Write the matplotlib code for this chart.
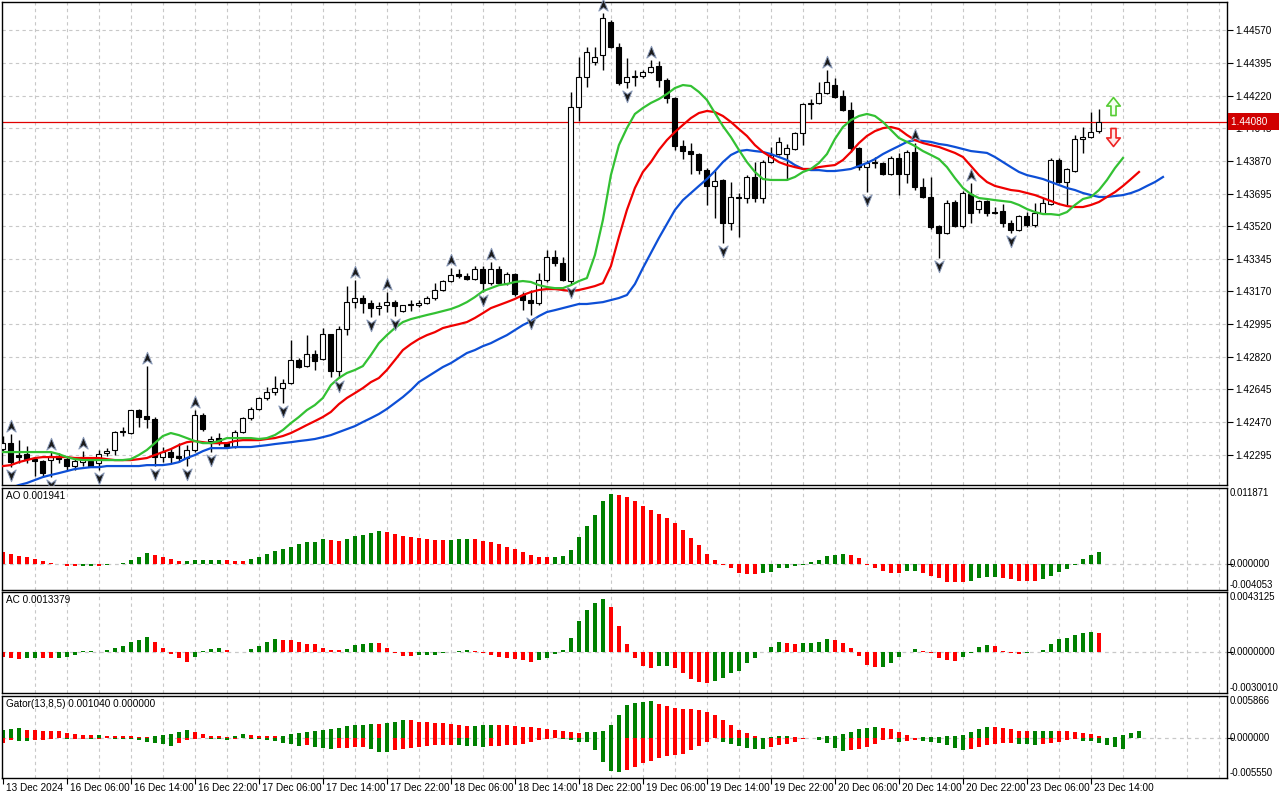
import numpy as np
import matplotlib.pyplot as plt
from matplotlib.path import Path
from matplotlib import transforms

plt.rcParams['font.family'] = ['Liberation Sans', 'DejaVu Sans']

# H1 candles, 13 Dec 22:00 .. 23 Dec 15:00 (prices)
opens = [1.42325, 1.42357, 1.42293, 1.42298, 1.42271, 1.42261, 1.42266, 1.42282, 1.42271, 1.42234,
         1.42255, 1.42261, 1.42250, 1.42304, 1.42320, 1.42422, 1.42411, 1.42534, 1.42502, 1.42486,
         1.42282, 1.42309, 1.42288, 1.42277, 1.42320, 1.42507, 1.42368, 1.42384, 1.42357, 1.42336,
         1.42416, 1.42491, 1.42540, 1.42599, 1.42631, 1.42652, 1.42679, 1.42802, 1.42770, 1.42835,
         1.42808, 1.42942, 1.42743, 1.42969, 1.43113, 1.43135, 1.43108, 1.43081, 1.43097, 1.43113,
         1.43065, 1.43097, 1.43097, 1.43108, 1.43135, 1.43178, 1.43226, 1.43264, 1.43253, 1.43237,
         1.43290, 1.43215, 1.43290, 1.43215, 1.43264, 1.43151, 1.43124, 1.43108, 1.43231, 1.43355,
         1.43323, 1.43226, 1.44159, 1.44320, 1.44400, 1.44438, 1.44615, 1.44481, 1.44293, 1.44320,
         1.44325, 1.44347, 1.44378, 1.44304, 1.44207, 1.43950, 1.43923, 1.43907, 1.43821, 1.43736,
         1.43768, 1.43537, 1.43677, 1.43671, 1.43783, 1.43671, 1.43864, 1.43907, 1.43907, 1.43934,
         1.44020, 1.44175, 1.44181, 1.44234, 1.44277, 1.44218, 1.44143, 1.43939, 1.43837, 1.43859,
         1.43859, 1.43800, 1.43886, 1.43800, 1.43918, 1.43730, 1.43677, 1.43521, 1.43483, 1.43650,
         1.43521, 1.43692, 1.43612, 1.43655, 1.43596, 1.43601, 1.43537, 1.43500, 1.43575, 1.43526,
         1.43591, 1.43639, 1.43875, 1.43757, 1.43816, 1.43987, 1.43998, 1.44030]
highs = [1.42395, 1.42405, 1.42373, 1.42341, 1.42282, 1.42266, 1.42309, 1.42304, 1.42288, 1.42277,
         1.42314, 1.42271, 1.42320, 1.42330, 1.42422, 1.42443, 1.42534, 1.42540, 1.42770, 1.42497,
         1.42336, 1.42330, 1.42357, 1.42346, 1.42534, 1.42518, 1.42395, 1.42411, 1.42362, 1.42427,
         1.42497, 1.42550, 1.42604, 1.42658, 1.42717, 1.42700, 1.42910, 1.42813, 1.42936, 1.42856,
         1.42974, 1.42942, 1.42985, 1.43199, 1.43231, 1.43151, 1.43124, 1.43113, 1.43167, 1.43124,
         1.43097, 1.43124, 1.43124, 1.43146, 1.43215, 1.43231, 1.43296, 1.43290, 1.43269, 1.43306,
         1.43306, 1.43328, 1.43306, 1.43274, 1.43269, 1.43167, 1.43178, 1.43269, 1.43392, 1.43392,
         1.43355, 1.44240, 1.44427, 1.44481, 1.44481, 1.44663, 1.44626, 1.44502, 1.44422, 1.44358,
         1.44358, 1.44411, 1.44406, 1.44315, 1.44212, 1.43982, 1.43966, 1.43912, 1.43832, 1.43821,
         1.43773, 1.43757, 1.43698, 1.43794, 1.43864, 1.43875, 1.43945, 1.43998, 1.43961, 1.44025,
         1.44181, 1.44202, 1.44293, 1.44358, 1.44315, 1.44250, 1.44186, 1.43945, 1.43875, 1.43891,
         1.43864, 1.43896, 1.43912, 1.43929, 1.43966, 1.43778, 1.43784, 1.43526, 1.43660, 1.43660,
         1.43709, 1.43752, 1.43660, 1.43660, 1.43623, 1.43639, 1.43553, 1.43580, 1.43596, 1.43644,
         1.43671, 1.43886, 1.43886, 1.43832, 1.44009, 1.44052, 1.44132, 1.44148]
lows = [1.42309, 1.42228, 1.42250, 1.42250, 1.42180, 1.42175, 1.42175, 1.42250, 1.42212, 1.42212,
        1.42234, 1.42228, 1.42212, 1.42288, 1.42293, 1.42395, 1.42405, 1.42443, 1.42438, 1.42234,
        1.42255, 1.42250, 1.42255, 1.42234, 1.42309, 1.42422, 1.42309, 1.42346, 1.42330, 1.42330,
        1.42411, 1.42481, 1.42534, 1.42588, 1.42615, 1.42572, 1.42674, 1.42759, 1.42765, 1.42749,
        1.42802, 1.42711, 1.42706, 1.42936, 1.43081, 1.43054, 1.43033, 1.43044, 1.43060, 1.43038,
        1.43060, 1.43065, 1.43087, 1.43103, 1.43124, 1.43172, 1.43221, 1.43242, 1.43231, 1.43231,
        1.43167, 1.43204, 1.43204, 1.43204, 1.43146, 1.43070, 1.43044, 1.43097, 1.43221, 1.43306,
        1.43226, 1.43210, 1.44084, 1.44266, 1.44384, 1.44358, 1.44476, 1.44277, 1.44261, 1.44272,
        1.44315, 1.44341, 1.44266, 1.44181, 1.43929, 1.43880, 1.43800, 1.43800, 1.43634, 1.43564,
        1.43430, 1.43500, 1.43462, 1.43644, 1.43650, 1.43644, 1.43859, 1.43902, 1.43768, 1.43929,
        1.43955, 1.44095, 1.44175, 1.44229, 1.44207, 1.44138, 1.43918, 1.43821, 1.43703, 1.43832,
        1.43794, 1.43794, 1.43687, 1.43752, 1.43714, 1.43671, 1.43505, 1.43349, 1.43478, 1.43516,
        1.43510, 1.43537, 1.43591, 1.43575, 1.43585, 1.43516, 1.43483, 1.43494, 1.43516, 1.43516,
        1.43585, 1.43634, 1.43752, 1.43634, 1.43811, 1.43913, 1.43993, 1.44020]
closes = [1.42357, 1.42255, 1.42282, 1.42271, 1.42261, 1.42196, 1.42282, 1.42271, 1.42234, 1.42261,
          1.42282, 1.42234, 1.42298, 1.42314, 1.42416, 1.42416, 1.42534, 1.42497, 1.42486, 1.42282,
          1.42309, 1.42282, 1.42277, 1.42320, 1.42507, 1.42432, 1.42379, 1.42357, 1.42336, 1.42416,
          1.42491, 1.42540, 1.42599, 1.42631, 1.42652, 1.42679, 1.42802, 1.42765, 1.42835, 1.42797,
          1.42942, 1.42743, 1.42969, 1.43113, 1.43135, 1.43108, 1.43081, 1.43092, 1.43113, 1.43092,
          1.43097, 1.43103, 1.43108, 1.43135, 1.43178, 1.43226, 1.43258, 1.43253, 1.43237, 1.43290,
          1.43215, 1.43290, 1.43215, 1.43264, 1.43156, 1.43124, 1.43108, 1.43231, 1.43355, 1.43323,
          1.43231, 1.44159, 1.44320, 1.44454, 1.44427, 1.44637, 1.44481, 1.44288, 1.44320, 1.44325,
          1.44347, 1.44373, 1.44304, 1.44207, 1.43950, 1.43923, 1.43907, 1.43821, 1.43736, 1.43762,
          1.43537, 1.43677, 1.43671, 1.43783, 1.43671, 1.43864, 1.43902, 1.43971, 1.43939, 1.44020,
          1.44175, 1.44181, 1.44234, 1.44293, 1.44212, 1.44143, 1.43939, 1.43837, 1.43859, 1.43864,
          1.43800, 1.43886, 1.43800, 1.43918, 1.43730, 1.43677, 1.43516, 1.43483, 1.43644, 1.43521,
          1.43698, 1.43591, 1.43655, 1.43591, 1.43591, 1.43537, 1.43500, 1.43575, 1.43526, 1.43591,
          1.43644, 1.43875, 1.43757, 1.43827, 1.43987, 1.43998, 1.44025, 1.44080]

# Alligator lines as drawn (already shifted forward)
jaw = [1.42105, 1.42116, 1.42132, 1.42143, 1.42159, 1.42175, 1.42186, 1.42196, 1.42207, 1.42218,
       1.42223, 1.42228, 1.42228, 1.42234, 1.42234, 1.42234, 1.42234, 1.42234, 1.42239, 1.42239,
       1.42239, 1.42245, 1.42255, 1.42277, 1.42293, 1.42314, 1.42330, 1.42330, 1.42330, 1.42336,
       1.42336, 1.42336, 1.42341, 1.42346, 1.42352, 1.42357, 1.42362, 1.42368, 1.42373, 1.42379,
       1.42389, 1.42400, 1.42416, 1.42432, 1.42448, 1.42470, 1.42491, 1.42513, 1.42540, 1.42572,
       1.42604, 1.42641, 1.42684, 1.42711, 1.42738, 1.42765, 1.42786, 1.42813, 1.42840, 1.42856,
       1.42877, 1.42893, 1.42915, 1.42936, 1.42963, 1.42990, 1.43011, 1.43038, 1.43060, 1.43070,
       1.43081, 1.43092, 1.43103, 1.43103, 1.43108, 1.43113, 1.43124, 1.43135, 1.43151, 1.43210,
       1.43296, 1.43376, 1.43457, 1.43532, 1.43607, 1.43660, 1.43698, 1.43736, 1.43773, 1.43816,
       1.43864, 1.43902, 1.43923, 1.43929, 1.43923, 1.43918, 1.43907, 1.43891, 1.43875, 1.43848,
       1.43827, 1.43821, 1.43821, 1.43816, 1.43816, 1.43821, 1.43827, 1.43843, 1.43859, 1.43880,
       1.43907, 1.43929, 1.43950, 1.43972, 1.43982, 1.43977, 1.43972, 1.43961, 1.43955, 1.43945,
       1.43934, 1.43923, 1.43918, 1.43913, 1.43891, 1.43864, 1.43837, 1.43811, 1.43794, 1.43784,
       1.43773, 1.43757, 1.43741, 1.43725, 1.43714, 1.43698, 1.43687, 1.43677, 1.43677, 1.43682,
       1.43687, 1.43698, 1.43714, 1.43736, 1.43757, 1.43784]
teeth = [1.42234, 1.42239, 1.42255, 1.42266, 1.42277, 1.42282, 1.42282, 1.42282, 1.42282, 1.42277,
         1.42277, 1.42277, 1.42277, 1.42271, 1.42266, 1.42266, 1.42266, 1.42271, 1.42277, 1.42293,
         1.42309, 1.42325, 1.42346, 1.42362, 1.42368, 1.42362, 1.42357, 1.42357, 1.42357, 1.42368,
         1.42373, 1.42373, 1.42373, 1.42379, 1.42384, 1.42395, 1.42411, 1.42432, 1.42454, 1.42475,
         1.42497, 1.42524, 1.42566, 1.42599, 1.42625, 1.42652, 1.42684, 1.42706, 1.42749, 1.42802,
         1.42856, 1.42888, 1.42915, 1.42936, 1.42952, 1.42974, 1.42985, 1.42995, 1.43006, 1.43028,
         1.43054, 1.43081, 1.43097, 1.43113, 1.43130, 1.43151, 1.43167, 1.43178, 1.43183, 1.43183,
         1.43178, 1.43172, 1.43178, 1.43188, 1.43199, 1.43215, 1.43306, 1.43462, 1.43607, 1.43725,
         1.43811, 1.43864, 1.43929, 1.43982, 1.44025, 1.44063, 1.44100, 1.44127, 1.44138, 1.44132,
         1.44111, 1.44079, 1.44041, 1.44004, 1.43955, 1.43918, 1.43891, 1.43864, 1.43848, 1.43837,
         1.43827, 1.43827, 1.43837, 1.43843, 1.43848, 1.43875, 1.43918, 1.43966, 1.44004, 1.44030,
         1.44046, 1.44052, 1.44041, 1.44009, 1.43982, 1.43966, 1.43955, 1.43945, 1.43929, 1.43913,
         1.43891, 1.43843, 1.43794, 1.43757, 1.43736, 1.43725, 1.43714, 1.43709, 1.43698, 1.43687,
         1.43671, 1.43655, 1.43639, 1.43628, 1.43623, 1.43623, 1.43634, 1.43650, 1.43677, 1.43703,
         1.43736, 1.43773, 1.43811]
lips = [1.42309, 1.42309, 1.42309, 1.42309, 1.42309, 1.42309, 1.42309, 1.42298, 1.42282, 1.42271,
        1.42266, 1.42266, 1.42266, 1.42266, 1.42266, 1.42266, 1.42271, 1.42293, 1.42320, 1.42357,
        1.42395, 1.42411, 1.42400, 1.42384, 1.42368, 1.42357, 1.42357, 1.42368, 1.42384, 1.42384,
        1.42384, 1.42384, 1.42379, 1.42384, 1.42400, 1.42427, 1.42464, 1.42497, 1.42534, 1.42561,
        1.42599, 1.42668, 1.42706, 1.42733, 1.42749, 1.42770, 1.42829, 1.42893, 1.42936, 1.42974,
        1.43006, 1.43022, 1.43033, 1.43044, 1.43054, 1.43065, 1.43076, 1.43092, 1.43113, 1.43140,
        1.43172, 1.43188, 1.43204, 1.43210, 1.43221, 1.43226, 1.43221, 1.43204, 1.43194, 1.43188,
        1.43188, 1.43204, 1.43226, 1.43242, 1.43365, 1.43553, 1.43794, 1.43955, 1.44046, 1.44122,
        1.44154, 1.44181, 1.44202, 1.44229, 1.44261, 1.44277, 1.44272, 1.44240, 1.44197, 1.44127,
        1.44057, 1.43998, 1.43929, 1.43864, 1.43811, 1.43773, 1.43768, 1.43768, 1.43768, 1.43784,
        1.43811, 1.43827, 1.43859, 1.43907, 1.43988, 1.44052, 1.44089, 1.44111, 1.44122, 1.44111,
        1.44079, 1.44036, 1.43993, 1.43972, 1.43950, 1.43923, 1.43902, 1.43880, 1.43837, 1.43778,
        1.43725, 1.43692, 1.43671, 1.43666, 1.43660, 1.43655, 1.43650, 1.43634, 1.43612, 1.43596,
        1.43585, 1.43585, 1.43580, 1.43596, 1.43634, 1.43666, 1.43677, 1.43714, 1.43768, 1.43832,
        1.43886]

ao = [0.00193, 0.00161, 0.00129, 0.00113, 0.00080, 0.00048, 0.00016, -0.00005, -0.00030, -0.00031,
      -0.00027, -0.00025, -0.00030, -0.00020, -0.00005, 0.00016, 0.00060, 0.00110, 0.00180, 0.00145,
      0.00110, 0.00080, 0.00040, 0.00042, 0.00064, 0.00066, 0.00068, 0.00070, 0.00066, 0.00050,
      0.00048, 0.00080, 0.00110, 0.00160, 0.00210, 0.00240, 0.00270, 0.00310, 0.00340, 0.00350,
      0.00390, 0.00370, 0.00360, 0.00390, 0.00430, 0.00450, 0.00480, 0.00510, 0.00500, 0.00466,
      0.00434, 0.00418, 0.00402, 0.00386, 0.00370, 0.00369, 0.00372, 0.00386, 0.00388, 0.00385,
      0.00354, 0.00338, 0.00306, 0.00273, 0.00241, 0.00193, 0.00145, 0.00113, 0.00112, 0.00114,
      0.00129, 0.00225, 0.00418, 0.00595, 0.00772, 0.00981, 0.01094, 0.01078, 0.01045, 0.00981,
      0.00900, 0.00836, 0.00788, 0.00724, 0.00643, 0.00531, 0.00402, 0.00290, 0.00161, 0.00064,
      -0.00010, -0.00064, -0.00145, -0.00161, -0.00163, -0.00145, -0.00129, -0.00064, -0.00060, -0.00032,
      -0.00010, 0.00032, 0.00064, 0.00129, 0.00145, 0.00161, 0.00145, 0.00097, -0.00010, -0.00064,
      -0.00113, -0.00145, -0.00147, -0.00113, -0.00112, -0.00145, -0.00193, -0.00225, -0.00273, -0.00275,
      -0.00277, -0.00272, -0.00225, -0.00209, -0.00205, -0.00225, -0.00241, -0.00257, -0.00260, -0.00262,
      -0.00241, -0.00193, -0.00129, -0.00080, -0.00010, 0.00080, 0.00145, 0.001941]
ac = [-0.00039, -0.00047, -0.00054, -0.00047, -0.00046, -0.00047, -0.00048, -0.00046, -0.00039, -0.00025,
      0.00002, 0.00003, -0.00001, 0.00010, 0.00027, 0.00042, 0.00071, 0.00086, 0.00108, 0.00071,
      0.00027, -0.00017, -0.00047, -0.00076, -0.00039, 0.00001, 0.00020, 0.00027, 0.00010, -0.00001,
      -0.00003, 0.00020, 0.00042, 0.00071, 0.00094, 0.00086, 0.00085, 0.00071, 0.00057, 0.00056,
      0.00027, 0.00012, 0.00010, 0.00020, 0.00049, 0.00057, 0.00064, 0.00063, 0.00027, -0.00007,
      -0.00032, -0.00034, -0.00025, -0.00024, -0.00023, -0.00010, 0.00000, 0.00007, 0.00008, 0.00006,
      -0.00010, -0.00025, -0.00040, -0.00047, -0.00054, -0.00062, -0.00076, -0.00062, -0.00045, -0.00017,
      0.00010, 0.00100, 0.00219, 0.00298, 0.00352, 0.00379, 0.00323, 0.00182, 0.00052, -0.00047,
      -0.00108, -0.00121, -0.00108, -0.00106, -0.00121, -0.00158, -0.00202, -0.00219, -0.00231, -0.00212,
      -0.00190, -0.00153, -0.00138, -0.00084, -0.00047, -0.00005, 0.00032, 0.00069, 0.00059, 0.00057,
      0.00062, 0.00063, 0.00069, 0.00089, 0.00081, 0.00059, 0.00025, -0.00030, -0.00096, -0.00113,
      -0.00110, -0.00084, -0.00040, -0.00005, 0.00022, 0.00007, -0.00010, -0.00047, -0.00059, -0.00066,
      -0.00039, -0.00010, 0.00032, 0.00047, 0.00039, 0.00007, -0.00012, -0.00017, -0.00012, -0.00005,
      0.00012, 0.00057, 0.00094, 0.00100, 0.00122, 0.00136, 0.00142, 0.0013379]

# Gator oscillator, in units of 1e-4
gator_up_e4 = [11.9, 13.3, 14.8, 11.9, 11.5, 10.5, 10.4, 9.5, 7.6, 6.2,
               4.8, 4.7, 4.9, 3.3, 3.3, 3.2, 3.1, 1.9, 1.0, 2.4,
               4.8, 6.2, 9.0, 11.9, 9.0, 6.2, 3.3, 3.2, 1.9, 3.3,
               5.7, 4.8, 3.3, 2.4, 2.3, 3.3, 5.7, 7.6, 9.0, 10.5,
               11.9, 13.3, 14.8, 16.7, 17.8, 18.3, 19.4, 19.3, 21.0, 23.1,
               25.3, 24.7, 23.1, 22.6, 21.5, 21.0, 19.9, 18.3, 16.7, 17.2,
               17.8, 18.8, 18.3, 17.8, 16.7, 16.1, 15.6, 14.0, 12.4, 11.3,
               9.7, 8.1, 7.5, 8.6, 9.1, 10.2, 18.3, 32.8, 45.7, 49.5,
               51.0, 51.6, 47.3, 45.2, 42.0, 40.4, 40.0, 39.3, 36.6, 31.7,
               24.7, 17.8, 11.8, 7.5, 3.2, 0.3, 1.6, 2.7, 2.8, 1.1,
               0.2, 0.5, 1.6, 2.7, 3.2, 5.4, 9.1, 12.4, 14.5, 15.1,
               14.0, 12.4, 9.1, 3.8, 0.3, 1.1, 1.6, 1.7, 2.7, 3.2,
               4.3, 8.1, 12.4, 15.6, 15.4, 14.0, 12.4, 10.2, 9.7, 9.8,
               10.2, 10.3, 10.1, 9.7, 9.1, 7.5, 5.4, 2.7, 0.3, 2.2,
               4.8, 7.5, 10.4]
gator_down_e4 = [6.7, 3.0, 3.6, 3.8, 3.2, 2.4, 1.4, 0.5, 1.0, 0.9,
                 0.8, 1.0, 0.9, 0.5, 0.6, 0.7, 0.8, 2.4, 5.0, 6.7,
                 8.1, 10.9, 6.7, 2.4, 1.4, 0.5, 0.9, 1.0, 2.4, 1.4,
                 0.5, 0.6, 0.9, 2.4, 3.8, 6.7, 8.1, 10.9, 9.5, 12.4,
                 14.3, 15.2, 13.8, 13.5, 12.4, 11.8, 14.5, 18.8, 18.9, 17.2,
                 15.1, 13.5, 11.8, 10.8, 10.2, 9.1, 9.0, 9.7, 10.8, 11.3,
                 11.8, 10.8, 10.7, 9.7, 9.1, 7.5, 5.4, 2.7, 1.1, 0.5,
                 1.1, 3.2, 4.8, 5.4, 16.7, 33.9, 46.0, 47.0, 44.1, 39.8,
                 34.4, 31.7, 27.4, 24.7, 23.7, 21.5, 17.2, 11.3, 5.9, 0.5,
                 5.4, 8.1, 11.3, 14.0, 14.5, 14.6, 12.4, 9.7, 8.1, 5.4,
                 1.6, 0.2, 2.2, 6.5, 14.0, 17.8, 17.2, 14.5, 11.8, 8.1,
                 3.2, 1.6, 4.8, 3.8, 3.2, 4.3, 5.4, 6.5, 9.1, 13.5,
                 16.7, 15.1, 12.4, 9.1, 7.5, 7.0, 6.5, 7.5, 8.6, 9.1,
                 8.6, 7.0, 5.9, 3.2, 1.1, 4.3, 4.4, 6.5, 9.1, 12.9,
                 15.1, 0.0, 0.0]

fractal_up = [1, 6, 10, 18, 24, 44, 48, 56, 61, 75, 81, 103, 114, 121]
fractal_down = [1, 6, 12, 19, 23, 26, 35, 42, 46, 49, 60, 66, 71, 78, 90, 108, 117, 126]

price_ticks = [1.42295, 1.42470, 1.42645, 1.42820, 1.42995, 1.43170, 1.43345,
               1.43520, 1.43695, 1.43870, 1.44045, 1.44220, 1.44395, 1.44570]
time_labels = ['13 Dec 2024', '16 Dec 06:00', '16 Dec 14:00', '16 Dec 22:00', '17 Dec 06:00',
               '17 Dec 14:00', '17 Dec 22:00', '18 Dec 06:00', '18 Dec 14:00', '18 Dec 22:00',
               '19 Dec 06:00', '19 Dec 14:00', '19 Dec 22:00', '20 Dec 06:00', '20 Dec 14:00',
               '20 Dec 22:00', '23 Dec 06:00', '23 Dec 14:00']

# buy / sell signal arrows next to the last bar
signal_x = 138.8
buy_arrow_y = 1.44165
sell_arrow_y = 1.43998

GREEN = '#008000'
RED = '#ff0000'
GRID = '#c8c8c8'
FS = 7.2

W, H = 1280, 800
fig = plt.figure(figsize=(W / 100, H / 100), dpi=100)


def rect(x0, y0, x1, y1):
    return [x0 / W, 1 - y1 / H, (x1 - x0) / W, (y1 - y0) / H]


ax = fig.add_axes(rect(2, 2, 1227, 485))
ax_ao = fig.add_axes(rect(2, 488, 1227, 590))
ax_ac = fig.add_axes(rect(2, 592, 1227, 693))
ax_gt = fig.add_axes(rect(2, 696, 1227, 778))
panels = [ax, ax_ao, ax_ac, ax_gt]

for a in panels:
    a.set_xlim(-0.1, 153.0)
    for s in a.spines.values():
        s.set_linewidth(1.0)
        s.set_color('black')
    for k in range(4, 153, 4):
        a.axvline(k, color=GRID, lw=0.8, ls=(0, (3, 3)), zorder=0)
    a.tick_params(axis='x', bottom=False, labelbottom=False)

# ---- price panel ----
o, h, l, c = map(np.array, (opens, highs, lows, closes))
x = np.arange(len(c))
ax.set_ylim(1.421324, 1.447223)
ax.yaxis.tick_right()
ax.set_yticks(price_ticks)
ax.set_yticklabels([f'{p:.5f}' for p in price_ticks])
ax.tick_params(axis='y', labelsize=FS, length=4, pad=2, width=0.8)
for p in price_ticks:
    ax.axhline(p, color=GRID, lw=0.8, ls=(0, (3, 3)), zorder=0)

ax.vlines(x, l, h, color='black', lw=1.0, zorder=2)
bull = c >= o
ax.bar(x, np.abs(c - o), bottom=np.minimum(o, c), width=0.62,
       color=np.where(bull, 'white', 'black'), edgecolor='black', linewidth=0.8, zorder=3)

ax.plot(np.arange(len(jaw)), jaw, color='#0d4fd6', lw=1.6, zorder=4)
ax.plot(np.arange(len(teeth)), teeth, color='#f00000', lw=1.6, zorder=4)
ax.plot(np.arange(len(lips)), lips, color='#33c133', lw=1.6, zorder=4)

# fractal arrowheads
head_up = Path([(0, 1), (0.75, -0.9), (0, -0.35), (-0.75, -0.9), (0, 1)],
               [Path.MOVETO, Path.LINETO, Path.LINETO, Path.LINETO, Path.CLOSEPOLY])
head_dn = Path(head_up.vertices * [1, -1], head_up.codes)
tr_up = transforms.offset_copy(ax.transData, fig=fig, x=0, y=8, units='dots')
tr_dn = transforms.offset_copy(ax.transData, fig=fig, x=0, y=-8, units='dots')
ax.plot(fractal_up, h[fractal_up], ls='none', marker=head_up, ms=9, mfc='#1a1a1a',
        mec='#8a9ab8', mew=0.7, transform=tr_up, zorder=5, clip_on=False)
ax.plot(fractal_down, l[fractal_down], ls='none', marker=head_dn, ms=9, mfc='#1a1a1a',
        mec='#8a9ab8', mew=0.7, transform=tr_dn, zorder=5)

# current price line and label
ax.axhline(c[-1], color='#e00000', lw=0.9, zorder=2.5)
tr_r = transforms.offset_copy(transforms.blended_transform_factory(ax.transAxes, ax.transData),
                              fig=fig, x=4, y=0, units='dots')
ax.text(1.0, c[-1], f'{c[-1]:.5f}   ', transform=tr_r, color='white', fontsize=FS,
        va='center', ha='left', clip_on=False, zorder=10,
        bbox=dict(boxstyle='square,pad=0.35', fc='#d00000', ec='none'))

# signal arrows
block_up = Path([(-0.28, -1), (0.28, -1), (0.28, 0.05), (0.75, 0.05), (0, 1),
                 (-0.75, 0.05), (-0.28, 0.05), (-0.28, -1)],
                [Path.MOVETO] + [Path.LINETO] * 6 + [Path.CLOSEPOLY])
block_dn = Path(block_up.vertices * [1, -1], block_up.codes)
ax.plot([signal_x], [buy_arrow_y], marker=block_up, ms=13, mfc='#f4fff0', mec='#55cc33',
        mew=1.2, ls='none', zorder=6)
ax.plot([signal_x], [sell_arrow_y], marker=block_dn, ms=13, mfc='#ffe8e8', mec='#ee2222',
        mew=1.2, ls='none', zorder=6)


# ---- indicator panels ----
def trend_colors(vals, first):
    cols = [first]
    for a, b in zip(vals[:-1], vals[1:]):
        cols.append(GREEN if b > a else RED)
    return cols


def side_labels(a, top, bottom, zero_txt):
    a.set_yticks([0])
    a.set_yticklabels([''])
    a.yaxis.tick_right()
    a.tick_params(axis='y', length=4, width=0.8)
    tr = transforms.offset_copy(a.transAxes, fig=fig, x=3, y=0, units='dots')
    a.text(1.0, 1.0, top, transform=tr, fontsize=6.9, va='top', ha='left', clip_on=False)
    a.text(1.0, 0.0, bottom, transform=tr, fontsize=6.9, va='bottom', ha='left', clip_on=False)
    trz = transforms.offset_copy(transforms.blended_transform_factory(a.transAxes, a.transData),
                                 fig=fig, x=3, y=0, units='dots')
    a.text(1.0, 0.0, zero_txt, transform=trz, fontsize=6.9, va='center', ha='left', clip_on=False)
    a.axhline(0, color=GRID, lw=0.9, ls=(0, (3, 3)), zorder=0)


def title(a, txt):
    tr = transforms.offset_copy(a.transAxes, fig=fig, x=4, y=-3, units='dots')
    a.text(0.0, 1.0, txt, transform=tr, fontsize=FS, va='top', ha='left')


ax_ao.set_ylim(-0.004053, 0.011871)
ax_ao.bar(np.arange(len(ao)), ao, width=0.5, color=trend_colors(ao, RED), zorder=2)
side_labels(ax_ao, '0.011871', '-0.004053', '0.000000')
title(ax_ao, f'AO {ao[-1]:.6f}')

ax_ac.set_ylim(-0.0030010, 0.0043125)
ax_ac.bar(np.arange(len(ac)), ac, width=0.5, color=trend_colors(ac, RED), zorder=2)
side_labels(ax_ac, '0.0043125', '-0.0030010', '0.0000000')
title(ax_ac, f'AC {ac[-1]:.7f}')

gup = np.array(gator_up_e4) * 1e-4
gdn = np.array(gator_down_e4) * 1e-4
ax_gt.set_ylim(-0.005550, 0.005866)
ax_gt.bar(np.arange(len(gup)), gup, width=0.5, color=trend_colors(gup, GREEN), zorder=2)
ax_gt.bar(np.arange(len(gdn)), -gdn, width=0.5, color=trend_colors(gdn, RED), zorder=2)
side_labels(ax_gt, '0.005866', '-0.005550', '0.000000')
title(ax_gt, f'Gator(13,8,5) {gup[-1]:.6f} {gdn[-1]:.6f}')

# time axis
label_k = [8 * i for i in range(len(time_labels))]
ax_gt.set_xticks(label_k)
ax_gt.tick_params(axis='x', bottom=True, length=4, width=0.8, labelbottom=False)
tr_t = transforms.offset_copy(transforms.blended_transform_factory(ax_gt.transData, ax_gt.transAxes),
                              fig=fig, x=3, y=-10, units='dots')
for k, lab in zip(label_k, time_labels):
    ax_gt.text(k, 0.0, lab, transform=tr_t, fontsize=FS, va='center', ha='left', clip_on=False)

fig.savefig('out.png', dpi=100)
